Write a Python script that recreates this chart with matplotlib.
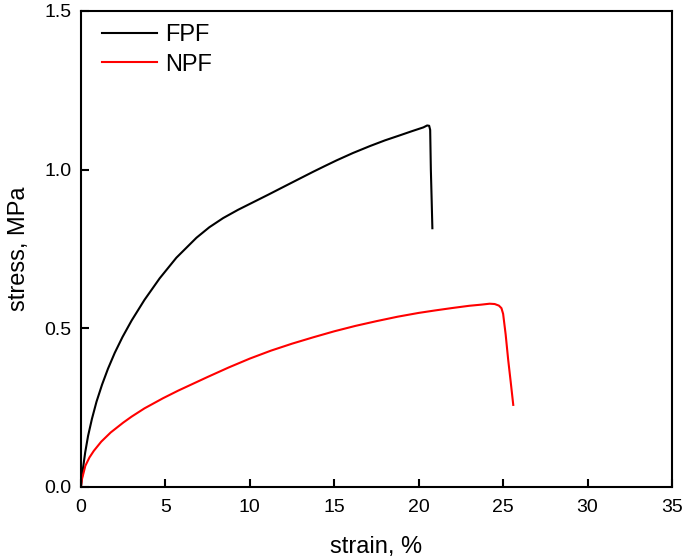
import numpy as np
import matplotlib.pyplot as plt

plt.rcParams["font.family"] = ["Liberation Sans", "DejaVu Sans"]

# ── Data ──────────────────────────────────────────────────────────────────────

fpf_strain = [0.0, 0.05, 0.12, 0.25, 0.42, 0.65, 0.92, 1.25, 1.6, 2.0, 2.46,
              3.0, 3.76, 4.66, 5.65, 6.84, 7.6, 8.42, 9.3, 10.2, 11.1, 11.98,
              12.9, 13.75, 14.4, 15.14, 16.1, 17.11, 18.0, 18.89, 19.6, 20.28,
              20.5, 20.62, 20.68, 20.72, 20.77, 20.81]
fpf_stress = [0.0, 0.025, 0.058, 0.108, 0.160, 0.214, 0.268, 0.322, 0.372,
              0.422, 0.472, 0.524, 0.589, 0.657, 0.722, 0.785, 0.818, 0.847,
              0.873, 0.897, 0.921, 0.945, 0.970, 0.993, 1.010, 1.029, 1.052,
              1.074, 1.092, 1.108, 1.121, 1.133, 1.139, 1.138, 1.125, 1.0,
              0.9, 0.815]

npf_strain = [0.0, 0.05, 0.26, 0.5, 0.76, 1.2, 1.76, 2.5, 3.0, 3.76, 4.86, 5.76,
              7.5, 8.75, 10.0, 11.25, 12.5, 13.75, 15.0, 16.25, 17.5, 18.75,
              20.0, 21.0, 22.0, 23.0, 23.7, 24.2, 24.5, 24.75, 24.9, 25.0,
              25.15, 25.3, 25.45, 25.6]
npf_stress = [0.0, 0.022, 0.066, 0.092, 0.113, 0.142, 0.171, 0.202, 0.221,
              0.247, 0.279, 0.303, 0.346, 0.376, 0.404, 0.429, 0.451, 0.471,
              0.490, 0.507, 0.522, 0.536, 0.548, 0.556, 0.5635, 0.5705, 0.574,
              0.577, 0.576, 0.571, 0.563, 0.545, 0.48, 0.40, 0.33, 0.258]

x_ticks = [0, 5, 10, 15, 20, 25, 30, 35]
y_ticks = [0.0, 0.5, 1.0, 1.5]

# ── Plot ──────────────────────────────────────────────────────────────────────

fig = plt.figure(figsize=(6.85, 5.57), dpi=100)
ax = fig.add_axes([0.1182, 0.1262, 0.8628, 0.8541])

ax.plot(fpf_strain, fpf_stress, color="black", lw=1.5, label="FPF")
ax.plot(npf_strain, npf_stress, color="red", lw=1.5, label="NPF")

ax.set_xlim(0, 35)
ax.set_ylim(0, 1.5)
ax.set_xticks(x_ticks)
ax.set_yticks(y_ticks)
ax.set_xticklabels([str(t) for t in x_ticks])
ax.set_yticklabels([f"{t:.1f}" for t in y_ticks])

ax.tick_params(direction="in", length=6, width=1.5, labelsize=14,
               top=False, right=False)
ax.tick_params(axis="x", pad=9)
ax.tick_params(axis="y", pad=7)
for s in ax.spines.values():
    s.set_linewidth(1.5)

ax.set_xlabel("strain, %", fontsize=17, labelpad=14)
ax.set_ylabel("stress, MPa", fontsize=17, labelpad=10)

ax.legend(loc="upper left", bbox_to_anchor=(0.0355, 0.9726), frameon=False,
          fontsize=17, handlelength=2.33, handletextpad=0.34,
          borderpad=0, borderaxespad=0, labelspacing=0.32)

fig.savefig("out.png", dpi=100)
